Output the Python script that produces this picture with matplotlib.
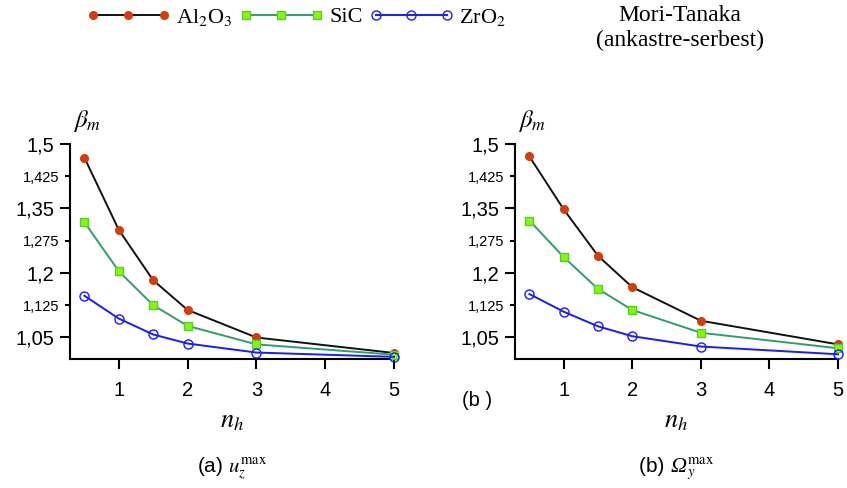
import matplotlib
matplotlib.use("Agg")
import matplotlib.pyplot as plt
from matplotlib.ticker import FixedLocator, FixedFormatter
from matplotlib.offsetbox import TextArea, HPacker, AnchoredOffsetbox

plt.rcParams['font.family'] = ['Liberation Sans', 'DejaVu Sans']
plt.rcParams['mathtext.fontset'] = 'stix'

# ---- data ----
n_h = [0.5, 1, 1.5, 2, 3, 5]
# (a) u_z^max
a_al2o3 = [1.468, 1.300, 1.183, 1.114, 1.050, 1.014]
a_sic = [1.318, 1.204, 1.125, 1.077, 1.034, 1.010]
a_zro2 = [1.147, 1.094, 1.057, 1.036, 1.015, 1.005]
# (b) Omega_y^max
b_al2o3 = [1.471, 1.348, 1.240, 1.167, 1.089, 1.034]
b_sic = [1.322, 1.237, 1.163, 1.114, 1.061, 1.025]
b_zro2 = [1.151, 1.110, 1.076, 1.053, 1.029, 1.011]

series_names = ['Al$_2$O$_3$', 'SiC', 'ZrO$_2$']
major_ticks = [1.05, 1.2, 1.35, 1.5]
major_labels = ['1,05', '1,2', '1,35', '1,5']
minor_ticks = [1.125, 1.275, 1.425]
minor_labels = ['1,125', '1,275', '1,425']
x_ticks = [1, 2, 3, 4, 5]

styles = [
    dict(color='#111111', marker='o', mfc='#d63c0c', mec='#d63c0c', ms=5.5, lw=1.4),
    dict(color='#2f9e6b', marker='s', mfc='#80ff00', mec='#5cc83a', ms=5.5, lw=1.4),
    dict(color='#1a1aff', marker='o', mfc='none', mec='#1a1aff', ms=6.5, mew=1.0, lw=1.4),
]

fig = plt.figure(figsize=(8.47, 4.88), dpi=100)
ax1 = fig.add_axes([70/847, 1-359/488, 324/847, 215/488])
ax2 = fig.add_axes([515/847, 1-359/488, 323/847, 215/488])

handles = []
for ax, data in [(ax1, [a_al2o3, a_sic, a_zro2]), (ax2, [b_al2o3, b_sic, b_zro2])]:
    for ys, st, nm in zip(data, styles, series_names):
        ln, = ax.plot(n_h, ys, label=nm, clip_on=False, zorder=3, **st)
        if ax is ax1:
            handles.append(ln)
    ax.set_xlim(0.29, 5.0)
    ax.set_ylim(1.0, 1.5)
    for s in ['top', 'right']:
        ax.spines[s].set_visible(False)
    for s in ['left', 'bottom']:
        ax.spines[s].set_linewidth(1.5)
    ax.yaxis.set_major_locator(FixedLocator(major_ticks))
    ax.yaxis.set_major_formatter(FixedFormatter(major_labels))
    ax.yaxis.set_minor_locator(FixedLocator(minor_ticks))
    ax.yaxis.set_minor_formatter(FixedFormatter(minor_labels))
    ax.set_xticks(x_ticks)
    ax.set_xticklabels([str(v) for v in x_ticks])
    ax.tick_params(axis='y', which='major', direction='out', length=7.5, width=1.5,
                   labelsize=14.5, pad=4)
    ax.tick_params(axis='y', which='minor', direction='out', length=3.8, width=1.5,
                   labelsize=10.5, pad=4)
    ax.tick_params(axis='x', which='major', direction='out', length=7.5, width=1.5,
                   labelsize=14.5, pad=8.5)
    ax.set_xlabel('$n_h$', fontsize=19, labelpad=6)
    ax.text(0.008, 1.045, r'$\beta_m$', transform=ax.transAxes, fontsize=18,
            ha='left', va='bottom')

# caption (a)
ax1.text(0.5, -0.51, '(a) $u_z^{\\mathrm{max}}$', transform=ax1.transAxes,
         fontsize=15, ha='center', va='center')

# caption (b) with italic capital Omega
cap_b = HPacker(children=[
    TextArea('(b) ', textprops=dict(fontsize=15, family='Liberation Sans')),
    TextArea('\u03a9', textprops=dict(fontsize=16, family='Liberation Serif',
                                       style='italic')),
    TextArea('${}_y^{\\mathrm{max}}$', textprops=dict(fontsize=15)),
], align='baseline', pad=0, sep=0)
ab = AnchoredOffsetbox(loc='center', child=cap_b, frameon=False, pad=0,
                       borderpad=0, bbox_to_anchor=(0.5, -0.51),
                       bbox_transform=ax2.transAxes)
ax2.add_artist(ab)

fig.text(477/847, 1-400/488, '(b )', fontsize=14.5, ha='center', va='center')

leg = fig.legend(handles=handles, loc='center', bbox_to_anchor=(296/847, 1-17/488),
                 ncol=3, frameon=False, numpoints=3, handlelength=3.8,
                 handletextpad=0.25, columnspacing=0.3, borderpad=0,
                 prop={'family': 'Liberation Serif', 'size': 16})

fig.text(680/847, 1-28/488, 'Mori-Tanaka\n(ankastre-serbest)', fontsize=17,
         family='Liberation Serif', ha='center', va='center', linespacing=1.2)

fig.savefig('out.png', dpi=100)
